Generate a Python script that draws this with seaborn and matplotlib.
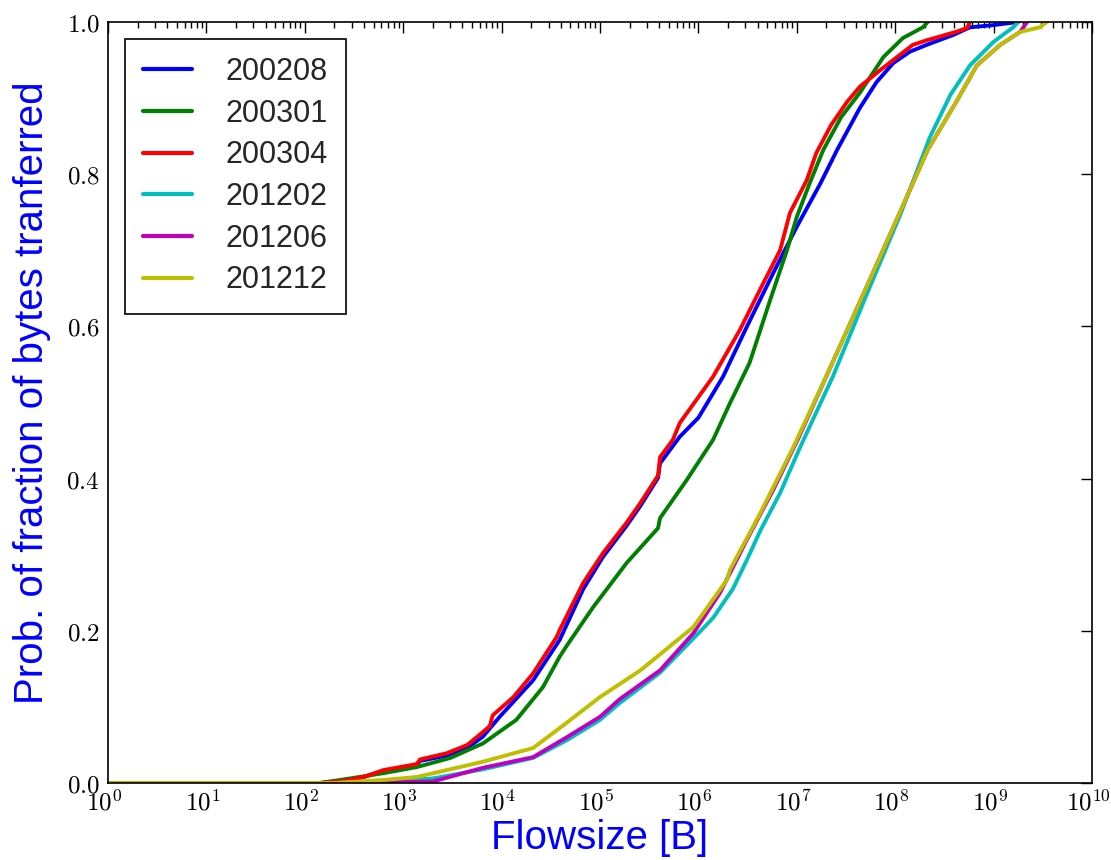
import numpy as np
import pandas as pd
import matplotlib
matplotlib.use("Agg")
import matplotlib.pyplot as plt
import matplotlib.transforms as mtransforms
import seaborn as sns
from matplotlib.ticker import FormatStrFormatter, FuncFormatter, LogLocator

# flowsize [B] and cumulative fraction of bytes
x_200208 = [1, 1.41e2, 2.51e2, 3.98e2, 6.31e2, 1.38e3, 1.48e3, 2.75e3, 4.47e3, 6.46e3,
            9.55e3, 2.09e4, 3.89e4, 6.76e4, 1.07e5, 1.86e5, 2.57e5, 3.89e5, 4.07e5, 6.46e5,
            1e6, 1.78e6, 3.09e6, 5.75e6, 1e7, 1.74e7, 2.57e7, 4.37e7, 6.46e7, 9.55e7,
            1.41e8, 2.09e8, 3.89e8, 5.75e8, 1e9, 1.78e9]
y_200208 = [0, 0, 0.003, 0.008, 0.016, 0.023, 0.029, 0.036, 0.046, 0.061,
            0.087, 0.135, 0.188, 0.255, 0.297, 0.338, 0.364, 0.401, 0.42, 0.455,
            0.48, 0.534, 0.599, 0.67, 0.731, 0.788, 0.832, 0.887, 0.921, 0.946,
            0.961, 0.97, 0.983, 0.993, 0.996, 1.0]

x_200301 = [1, 1.41e2, 2.88e2, 6.31e2, 1.38e3, 3.02e3, 6.46e3, 1.41e4, 2.63e4, 3.89e4,
            4.57e4, 8.51e4, 1.86e5, 3.89e5, 4.07e5, 7.59e5, 1.41e6, 2.09e6, 3.31e6, 5.37e6,
            7.94e6, 1e7, 1.35e7, 1.86e7, 2.82e7, 4.37e7, 7.59e7, 1.2e8, 1.91e8, 2.14e8]
y_200301 = [0, 0, 0.006, 0.013, 0.021, 0.033, 0.052, 0.083, 0.126, 0.166,
            0.18, 0.231, 0.289, 0.335, 0.348, 0.398, 0.451, 0.499, 0.552, 0.635,
            0.70, 0.744, 0.788, 0.832, 0.875, 0.907, 0.954, 0.979, 0.993, 1.0]

x_200304 = [1, 1.41e2, 2.51e2, 3.98e2, 6.31e2, 1.38e3, 1.48e3, 2.75e3, 4.47e3, 6.46e3,
            7.59e3, 8.13e3, 1.32e4, 2.09e4, 3.63e4, 3.89e4, 6.76e4, 1.07e5, 1.86e5, 2.57e5,
            3.89e5, 4.07e5, 5.5e5, 6.46e5, 1.41e6, 2.63e6, 4.57e6, 6.76e6, 8.51e6, 1.26e7,
            1.58e7, 2.24e7, 3.24e7, 4.37e7, 7.08e7, 1.12e8, 1.51e8, 2.09e8, 3.89e8, 5.37e8,
            5.75e8]
y_200304 = [0, 0, 0.003, 0.008, 0.017, 0.025, 0.031, 0.039, 0.05, 0.067,
            0.075, 0.089, 0.113, 0.144, 0.192, 0.201, 0.263, 0.302, 0.342, 0.368,
            0.404, 0.428, 0.451, 0.473, 0.534, 0.595, 0.657, 0.70, 0.749, 0.792,
            0.828, 0.865, 0.895, 0.915, 0.937, 0.957, 0.970, 0.976, 0.986, 0.992,
            1.0]

x_201202 = [1, 2e2, 6.31e2, 2e3, 6.46e3, 2.09e4, 4.57e4, 1e5, 1.58e5, 4.07e5,
            8.91e5, 1.41e6, 2.24e6, 3.16e6, 4.27e6, 6.76e6, 1.07e7, 2.34e7, 5.25e7, 1.12e8,
            2.24e8, 3.63e8, 5.75e8, 1e9, 1.58e9, 1.78e9]
y_201202 = [0, 0, 0.002, 0.006, 0.018, 0.033, 0.056, 0.083, 0.105, 0.145,
            0.19, 0.217, 0.255, 0.295, 0.332, 0.381, 0.44, 0.535, 0.645, 0.746,
            0.848, 0.904, 0.943, 0.974, 0.993, 1.0]

x_201206 = [1, 3.16e2, 2e3, 6.46e3, 2.09e4, 4.57e4, 1e5, 1.58e5, 4.07e5, 8.91e5,
            1.66e6, 3.09e6, 5.75e6, 1.02e7, 2.19e7, 5.25e7, 1e8, 2.14e8, 4.17e8, 6.76e8,
            1.17e9, 1.86e9, 2.19e9]
y_201206 = [0, 0, 0.002, 0.02, 0.034, 0.06, 0.087, 0.11, 0.148, 0.197,
            0.25, 0.319, 0.385, 0.451, 0.546, 0.655, 0.736, 0.832, 0.895, 0.943,
            0.970, 0.987, 1.0]

x_201212 = [1, 2e2, 6.31e2, 1.38e3, 6.46e3, 2.09e4, 4.57e4, 1e5, 2.57e5, 8.91e5,
            1.95e6, 2.09e6, 4.27e6, 9.12e6, 2.19e7, 5.25e7, 1e8, 2.14e8, 4.17e8, 6.76e8,
            1.17e9, 1.86e9, 2.95e9, 3.47e9]
y_201212 = [0, 0, 0.004, 0.008, 0.028, 0.046, 0.079, 0.113, 0.148, 0.205,
            0.267, 0.28, 0.355, 0.44, 0.546, 0.655, 0.736, 0.832, 0.895, 0.943,
            0.970, 0.987, 0.993, 1.0]

labels = ["200208", "200301", "200304", "201202", "201206", "201212"]
colors = ["#0000ff", "#008000", "#ff0000", "#00bfbf", "#bf00bf", "#bfbf00"]
series = [(x_200208, y_200208), (x_200301, y_200301), (x_200304, y_200304),
          (x_201202, y_201202), (x_201206, y_201206), (x_201212, y_201212)]

sns.set_style("white")
plt.rcParams["font.family"] = ["Liberation Sans", "DejaVu Sans"]
plt.rcParams["mathtext.fontset"] = "cm"
plt.rcParams["mathtext.default"] = "rm"

fig = plt.figure(figsize=(11.11, 8.6), dpi=100)
ax = fig.add_axes([0.0972, 0.0895, 0.8857, 0.8849])

for lab, col, (xs, ys) in zip(labels, colors, series):
    df = pd.DataFrame({"flowsize": xs, "prob": ys})
    sns.lineplot(data=df, x="flowsize", y="prob", color=col, linewidth=2.8,
                 label=lab, estimator=None, sort=False, ax=ax)

ax.set_xscale("log")
ax.set_xlim(1, 1e10)
ax.set_ylim(0, 1.0)
ax.set_yticks([0.0, 0.2, 0.4, 0.6, 0.8, 1.0])
ax.yaxis.set_major_formatter(FormatStrFormatter(r"$%.1f$"))
ax.set_xticks([10.0 ** k for k in range(11)])
ax.xaxis.set_minor_locator(LogLocator(base=10, subs=np.arange(2, 10), numticks=12))
ax.xaxis.set_major_formatter(FuncFormatter(lambda v, pos: r"$10^{%d}$" % round(np.log10(v))))

ax.tick_params(which="both", direction="in", top=True, right=True, colors="black")
ax.tick_params(which="major", length=8, width=1, labelsize=18)
ax.tick_params(axis="x", which="major", pad=5)
ax.tick_params(axis="y", which="major", pad=6)
ax.tick_params(which="minor", length=4, width=1)
for s in ax.spines.values():
    s.set_color("black")
    s.set_linewidth(1.2)

ax.set_xlabel("Flowsize [B]", color="blue", fontsize=29, labelpad=2)
ax.set_ylabel("Prob. of fraction of bytes tranferred", color="blue", fontsize=29, labelpad=6)
ax.yaxis.set_label_coords(-0.058, 0.513)

leg = ax.legend(loc="upper left", fontsize=22, frameon=True, fancybox=False, framealpha=1,
                edgecolor="black", handlelength=1.6, handletextpad=1.1, labelspacing=0.38,
                borderaxespad=0.55, borderpad=0.6)
leg.get_frame().set_linewidth(1.2)
for line in leg.get_lines():
    line.set_linewidth(3)

# old-style mathtext labels sit a few pixels left of their tick
fig.canvas.draw()
shift = mtransforms.ScaledTranslation(-4 / 100, 0, fig.dpi_scale_trans)
for tick in ax.xaxis.get_major_ticks():
    tick.label1.set_transform(tick.label1.get_transform() + shift)

fig.savefig("out.png", dpi=100)
